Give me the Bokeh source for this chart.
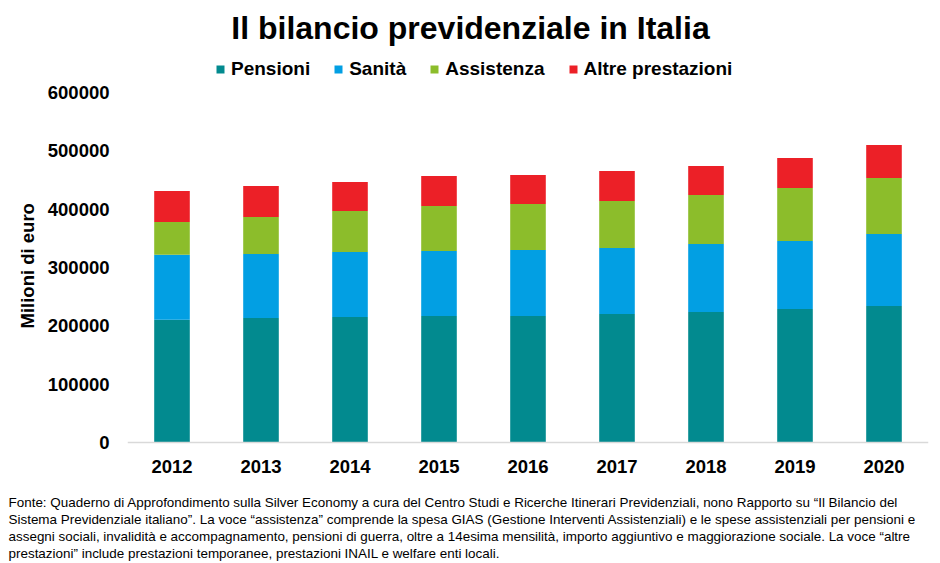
from bokeh.plotting import figure
from bokeh.models import (FactorRange, Range1d, FixedTicker, NumeralTickFormatter,
                          Legend, LegendItem, Title, Label, ColumnDataSource)
from bokeh.embed import file_html
from bokeh.resources import INLINE

years = ["2012", "2013", "2014", "2015", "2016", "2017", "2018", "2019", "2020"]
pensioni = [210500, 213400, 215100, 216900, 216900, 220300, 223700, 228900, 234000]
sanita = [111400, 109700, 111500, 111400, 113100, 113100, 116600, 116500, 123400]
assistenza = [56000, 63500, 70300, 77100, 78900, 80600, 84000, 90900, 96000]
altre = [53100, 53100, 49700, 51400, 49700, 51400, 49700, 51400, 56600]

series = ["Pensioni", "Sanità", "Assistenza", "Altre prestazioni"]
keys = ["pensioni", "sanita", "assistenza", "altre"]
colors = ["#028a8f", "#029fe3", "#8cbd2b", "#ec2027"]
yticks = [0, 100000, 200000, 300000, 400000, 500000, 600000]
y_label = "Milioni di euro"

title_text = "Il bilancio previdenziale in Italia"
note_lines = [
    "Fonte: Quaderno di Approfondimento sulla Silver Economy a cura del Centro Studi e Ricerche Itinerari Previdenziali, nono Rapporto su \u201cIl Bilancio del",
    "Sistema Previdenziale italiano\u201d. La voce \u201cassistenza\u201d comprende la spesa GIAS (Gestione Interventi Assistenziali) e le spese assistenziali per pensioni e",
    "assegni sociali, invalidit\u00e0 e accompagnamento, pensioni di guerra, oltre a 14esima mensilit\u00e0, importo aggiuntivo e maggiorazione sociale. La voce \u201caltre",
    "prestazioni\u201d include prestazioni temporanee, prestazioni INAIL e welfare enti locali.",
]

FONT = "Liberation Sans"

# pixel layout of the frame: top at 0, value 0 at 442, 600000 at 92, frame bottom at 492
W, H = 940, 563
FRAME_H = 492
ZERO_Y = 442
PX_PER_UNIT = 350 / 600000
y_start = -(FRAME_H - ZERO_Y) / PX_PER_UNIT
y_end = ZERO_Y / PX_PER_UNIT

source = ColumnDataSource(dict(years=years, pensioni=pensioni, sanita=sanita,
                               assistenza=assistenza, altre=altre))

p = figure(width=W, height=H, output_backend="svg", toolbar_location=None,
           x_range=FactorRange(*years, range_padding=0), y_range=Range1d(y_start, y_end),
           min_border_left=127, min_border_right=12, min_border_top=0,
           min_border_bottom=H - FRAME_H, title=None)
p.outline_line_color = None
p.xgrid.grid_line_color = None
p.ygrid.grid_line_color = None

renderers = p.vbar_stack(keys, x="years", width=0.4, source=source, color=colors, line_color=None)

# y axis
p.yaxis.ticker = FixedTicker(ticks=yticks)
p.yaxis.formatter = NumeralTickFormatter(format="0")
p.yaxis.axis_line_color = None
p.yaxis.major_tick_line_color = None
p.yaxis.minor_tick_line_color = None
p.yaxis.major_label_text_font = FONT
p.yaxis.major_label_text_font_style = "bold"
p.yaxis.major_label_text_font_size = "18.5px"
p.yaxis.major_label_text_color = "#000000"
p.yaxis.major_label_standoff = 12

p.add_layout(Title(text=y_label, align="left", offset=FRAME_H - 328, standoff=13,
                   text_font=FONT, text_font_style="bold", text_font_size="18.5px",
                   text_color="#000000"), "left")

# x axis, drawn at value 0
p.xaxis.fixed_location = 0
p.xaxis.axis_line_color = "#d9d9d9"
p.xaxis.axis_line_width = 1.5
p.xaxis.major_tick_line_color = None
p.xaxis.minor_tick_line_color = None
p.xaxis.major_label_text_font = FONT
p.xaxis.major_label_text_font_style = "bold"
p.xaxis.major_label_text_font_size = "18.5px"
p.xaxis.major_label_text_color = "#000000"
p.xaxis.major_label_standoff = 11

# legend
items = [LegendItem(label=s, renderers=[r]) for s, r in zip(series, renderers)]
legend = Legend(items=items, orientation="horizontal", location=(88, FRAME_H - 80),
                glyph_width=10, glyph_height=10, label_standoff=6, spacing=23,
                padding=0, margin=0, border_line_color=None, background_fill_alpha=0,
                label_text_font=FONT, label_text_font_style="bold",
                label_text_font_size="19px", label_text_color="#000000")
p.add_layout(legend)

# title
p.add_layout(Label(x=343, y=FRAME_H - 27, x_units="screen", y_units="screen", text=title_text,
                   text_align="center", text_baseline="middle", text_font=FONT,
                   text_font_style="bold", text_font_size="32px", text_color="#000000"))

# footnote
for line in note_lines:
    p.add_layout(Title(text=line, align="left", offset=-119, standoff=0,
                       text_font=FONT, text_font_style="normal", text_font_size="13.45px",
                       text_color="#000000"), "below")

open("out.html", "w").write(file_html(p, INLINE))
